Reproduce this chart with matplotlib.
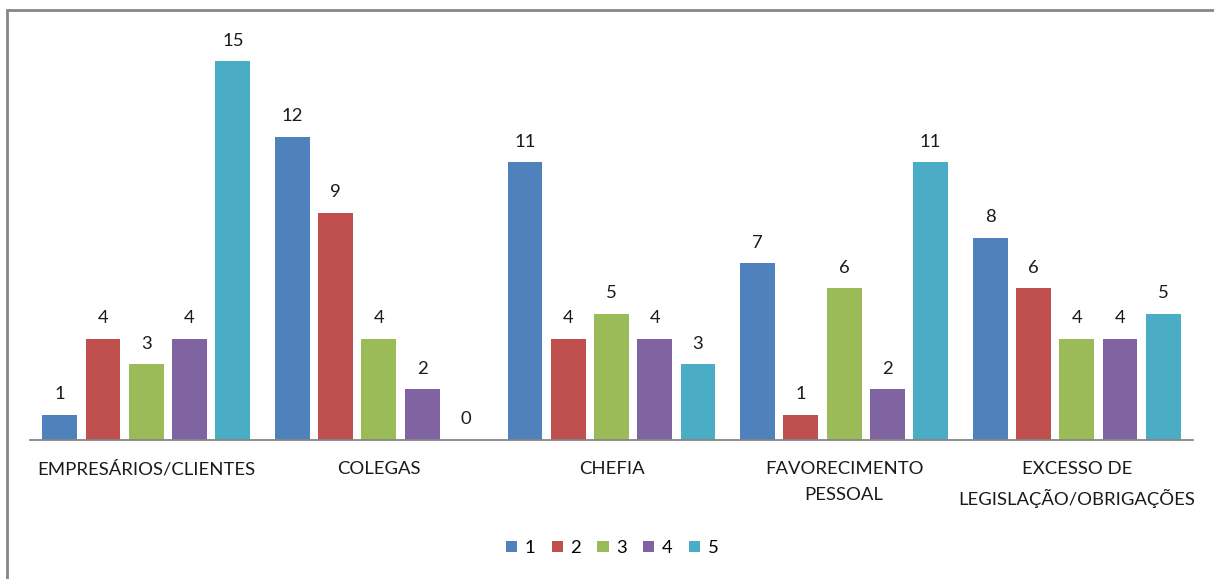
import matplotlib.pyplot as plt
from matplotlib.patches import Rectangle
import numpy as np

plt.rcParams['font.family'] = ['Lato', 'DejaVu Sans']

categories = ['EMPRESÁRIOS/CLIENTES', 'COLEGAS', 'CHEFIA',
              'FAVORECIMENTO\nPESSOAL', 'EXCESSO DE\nLEGISLAÇÃO/OBRIGAÇÕES']
series_names = ['1', '2', '3', '4', '5']
s1 = [1, 12, 11, 7, 8]
s2 = [4, 9, 4, 1, 6]
s3 = [3, 4, 5, 6, 4]
s4 = [4, 2, 4, 2, 4]
s5 = [15, 0, 3, 11, 5]
colors = ['#4F81BD', '#C0504D', '#9BBB59', '#8064A2', '#4BACC6']

W, H = 1214, 579
fig = plt.figure(figsize=(W / 100, H / 100), dpi=100)

# chart area frame (only top and left edges fall inside the image)
fig.patches.append(Rectangle((7 / W, -0.1), 1.2, (H - 10) / H + 0.1,
                             transform=fig.transFigure, fill=False,
                             edgecolor='#868686', linewidth=2))

ymax = 16
unit = (440 - 61) / 15
top = 440 - ymax * unit
ax = fig.add_axes([30 / W, (H - 440) / H, (1193 - 30) / W, (440 - top) / H])

x = np.arange(len(categories))
pitch = 0.186
width = 0.15
for i, (vals, name) in enumerate(zip([s1, s2, s3, s4, s5], series_names)):
    pos = x + (i - 2) * pitch
    ax.bar(pos, vals, width, color=colors[i], label=name, zorder=2)
    for px, v in zip(pos, vals):
        ax.annotate(str(v), (px, v), xytext=(0, 9), textcoords='offset points',
                    ha='center', va='bottom', fontsize=13.3, color='#1a1a1a')

ax.set_xlim(-0.5, len(categories) - 0.5)
ax.set_ylim(0, ymax)
ax.set_yticks([])
ax.set_xticks(x)
ax.set_xticklabels(categories, fontsize=13.3, color='#1a1a1a', linespacing=1.75)
ax.tick_params(axis='x', length=0, pad=15)
for side in ['top', 'right', 'left']:
    ax.spines[side].set_visible(False)
ax.spines['bottom'].set_color('#868686')
ax.spines['bottom'].set_linewidth(1.3)

fig.legend(*ax.get_legend_handles_labels(), loc='center', ncol=5,
           bbox_to_anchor=(612 / W, (H - 548) / H), frameon=False,
           fontsize=13.3, handlelength=0.6, handleheight=0.6,
           handletextpad=0.4, columnspacing=0.9)

fig.savefig('out.png', dpi=100)
